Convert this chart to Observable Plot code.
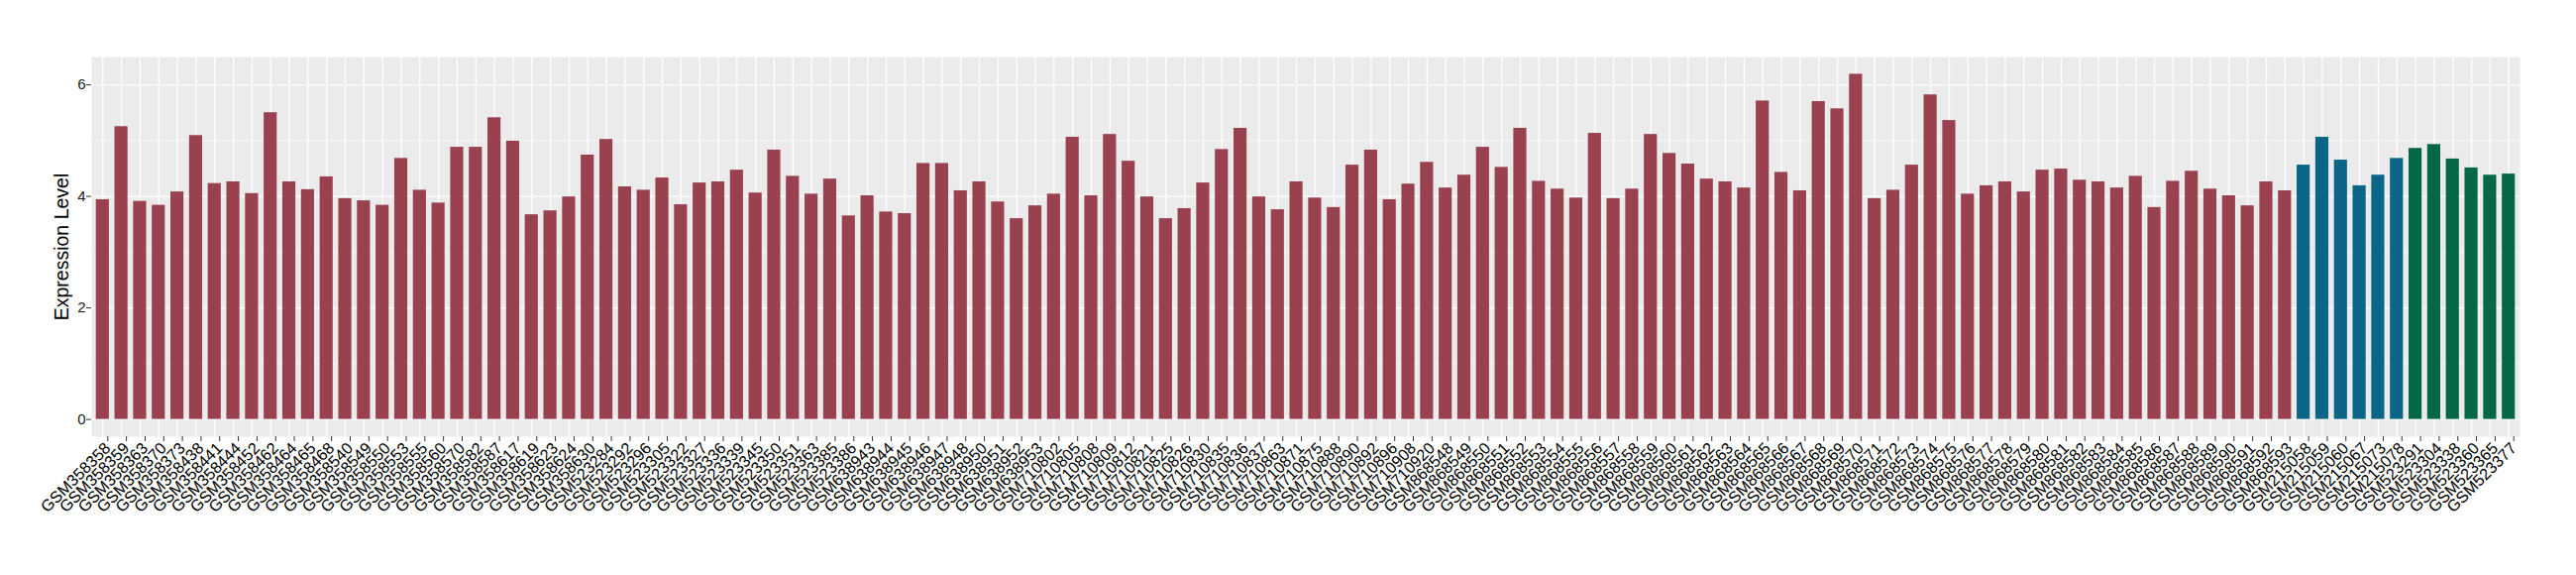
<!DOCTYPE html>
<html>
<head>
<meta charset="utf-8">
<script src="https://cdn.jsdelivr.net/npm/d3@7"></script>
<script src="https://cdn.jsdelivr.net/npm/@observablehq/plot@0.6"></script>
<style>
  html, body { margin: 0; padding: 0; background: #ffffff; }
  #chart { width: 2600px; height: 580px; }
</style>
</head>
<body>
<div id="chart"></div>
<script>
// ---- data ----
const samplesA = [
  "GSM358358","GSM358359","GSM358363","GSM358370","GSM358373","GSM358438","GSM358441","GSM358444","GSM358452","GSM358462",
  "GSM358464","GSM358465","GSM358468","GSM358540","GSM358549","GSM358550","GSM358553","GSM358555","GSM358560","GSM358570",
  "GSM358582","GSM358587","GSM358617","GSM358619","GSM358623","GSM358624","GSM358630","GSM523284","GSM523292","GSM523296",
  "GSM523305","GSM523322","GSM523327","GSM523336","GSM523339","GSM523345","GSM523350","GSM523351","GSM523363","GSM523385",
  "GSM523386","GSM638943","GSM638944","GSM638945","GSM638946","GSM638947","GSM638948","GSM638950","GSM638951","GSM638952",
  "GSM638953","GSM710802","GSM710805","GSM710808","GSM710809","GSM710812","GSM710821","GSM710825","GSM710826","GSM710830",
  "GSM710835","GSM710836","GSM710837","GSM710863","GSM710871","GSM710875","GSM710888","GSM710890","GSM710892","GSM710896",
  "GSM710908","GSM710920","GSM868548","GSM868549","GSM868550","GSM868551","GSM868552","GSM868553","GSM868554","GSM868555",
  "GSM868556","GSM868557","GSM868558","GSM868559","GSM868560","GSM868561","GSM868562","GSM868563","GSM868564","GSM868565",
  "GSM868566","GSM868567","GSM868568","GSM868569","GSM868570","GSM868571","GSM868572","GSM868573","GSM868574","GSM868575",
  "GSM868576","GSM868577","GSM868578","GSM868579","GSM868580","GSM868581","GSM868582","GSM868583","GSM868584","GSM868585",
  "GSM868586","GSM868587","GSM868588","GSM868589","GSM868590","GSM868591","GSM868592","GSM868593"
];
const valuesA = [
  3.94,5.25,3.91,3.84,4.08,5.09,4.23,4.26,4.05,5.50,
  4.26,4.12,4.35,3.96,3.92,3.84,4.68,4.11,3.88,4.88,
  4.88,5.41,4.99,3.67,3.74,3.99,4.74,5.02,4.17,4.11,
  4.33,3.85,4.24,4.26,4.47,4.06,4.83,4.36,4.04,4.31,
  3.65,4.01,3.72,3.69,4.59,4.59,4.10,4.26,3.90,3.60,
  3.83,4.04,5.06,4.01,5.11,4.63,3.99,3.60,3.78,4.24,
  4.84,5.22,3.99,3.76,4.26,3.97,3.80,4.56,4.83,3.94,
  4.22,4.61,4.15,4.38,4.88,4.52,5.22,4.27,4.13,3.97,
  5.13,3.96,4.13,5.11,4.77,4.58,4.31,4.26,4.15,5.71,
  4.43,4.10,5.70,5.57,6.19,3.96,4.11,4.56,5.82,5.36,
  4.04,4.19,4.26,4.08,4.47,4.49,4.29,4.26,4.15,4.36,
  3.80,4.27,4.45,4.13,4.01,3.83,4.26,4.10
];
const samplesB = ["GSM215058","GSM215059","GSM215060","GSM215067","GSM215073","GSM215078"];
const valuesB  = [4.56,5.06,4.65,4.19,4.38,4.68];
const samplesC = ["GSM523291","GSM523304","GSM523338","GSM523360","GSM523365","GSM523377"];
const valuesC  = [4.86,4.93,4.67,4.51,4.38,4.40];
const groupNames  = ["A","B","C"];
const groupColors = ["#9A4150","#0A6586","#046846"];
const yMajorTicks = [0,2,4,6];
const yMinorTicks = [1,3,5];
const yTitle = "Expression Level";

// ---- table ----
const rows = [
  ...samplesA.map((s,i)=>({sample:s, value:valuesA[i], group:"A"})),
  ...samplesB.map((s,i)=>({sample:s, value:valuesB[i], group:"B"})),
  ...samplesC.map((s,i)=>({sample:s, value:valuesC[i], group:"C"}))
];
const maxV = d3.max(rows, d=>d.value);

const chart = Plot.plot({
  width: 2600,
  height: 580,
  marginLeft: 92,
  marginRight: 57,
  marginTop: 57,
  marginBottom: 140,
  style: {fontFamily: "'Liberation Sans', Arial, sans-serif", background: "#ffffff", overflow: "visible"},
  x: {domain: rows.map(d=>d.sample), paddingInner: 0.3, paddingOuter: 0.25, round: false, label: null},
  y: {domain: [-0.05*maxV, 1.05*maxV], label: null},
  color: {domain: groupNames, range: groupColors},
  marks: [
    Plot.frame({fill: "#EBEBEB", stroke: null}),
    Plot.gridY({ticks: yMinorTicks, stroke: "#ffffff", strokeOpacity: 1, strokeWidth: 0.6}),
    Plot.gridY({ticks: yMajorTicks, stroke: "#ffffff", strokeOpacity: 1, strokeWidth: 1.3}),
    Plot.gridX({stroke: "#ffffff", strokeOpacity: 1, strokeWidth: 1.3}),
    Plot.barY(rows, {x: "sample", y: "value", fill: "group"}),
    Plot.axisY({ticks: yMajorTicks, tickFormat: d3.format("d"), tickSize: 5, tickPadding: 1, fontSize: 15, stroke: "#333333", fill: "#1A1A1A", label: null}),
    Plot.axisX({tickRotate: -45, tickSize: 5, tickPadding: 4, fontSize: 16.3, stroke: "#333333", fill: "#000000", label: null, dx: 5}),
    Plot.text([yTitle], {frameAnchor: "left", textAnchor: "middle", lineAnchor: "middle", rotate: -90, dx: -30, fontSize: 19.5, fill: "#000000"})
  ]
});
document.getElementById("chart").appendChild(chart);
</script>
</body>
</html>
